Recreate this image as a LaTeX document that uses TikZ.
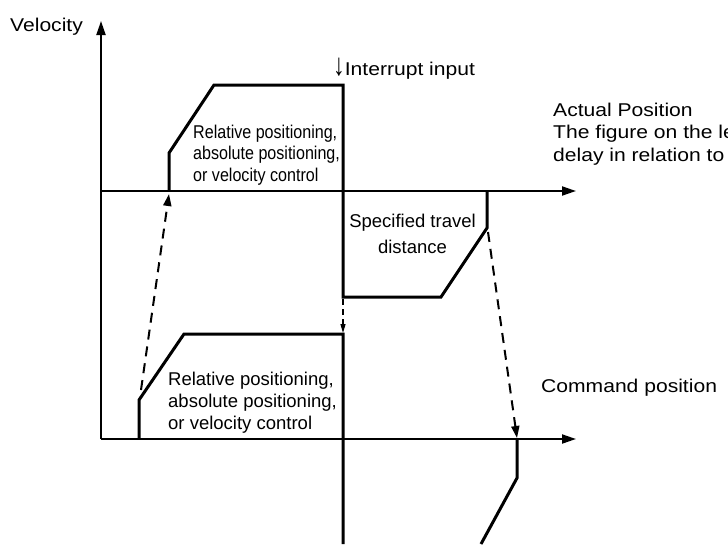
\documentclass[tikz,border=0pt]{standalone}
\usepackage{fontspec}
\setmainfont{Liberation Sans}
\newfontfamily\widefont[FakeStretch=1.14]{Liberation Sans}
\newfontfamily\narrowfont[FakeStretch=0.87]{Liberation Sans}
\usetikzlibrary{arrows.meta}
\begin{document}
\begin{tikzpicture}[x=1pt,y=-1pt,
  axis/.style={line width=2pt,-{Triangle[length=14pt,width=9pt]}},
  profile/.style={line width=3pt,line join=miter},
  dasharrow/.style={line width=2pt,dash pattern=on 10pt off 7pt,-{Triangle[length=12pt,width=8pt]}},
  smalldash/.style={line width=1.2pt,dash pattern=on 6pt off 4pt,-{Triangle[length=9pt,width=5pt]}},
  widelabel/.style={font=\widefont\fontsize{18.5}{22.5}\selectfont,inner sep=0pt,anchor=base west,align=left},
  normlabel/.style={font=\fontsize{18.5}{22}\selectfont,inner sep=0pt,align=left},
  narrowlabel/.style={font=\narrowfont\fontsize{18.5}{21.5}\selectfont,inner sep=0pt,anchor=base west,align=left}]
\useasboundingbox (0,0) rectangle (728,544);
\clip (0,0) rectangle (728,544);
% coordinates
\coordinate (o1) at (101,191);
\coordinate (o2) at (101,439);
\coordinate (vtip) at (101,21);
\coordinate (x1tip) at (576,191);
\coordinate (x2tip) at (576,439);
% upper profile
\coordinate (u0) at (169,191);
\coordinate (u1) at (169,153);
\coordinate (u2) at (214,85);
\coordinate (u3) at (343,85);
\coordinate (u4) at (343,297);
\coordinate (u5) at (441,297);
\coordinate (u6) at (487,228);
\coordinate (u7) at (487,191);
% lower profile
\coordinate (l0) at (139,439);
\coordinate (l1) at (139,400);
\coordinate (l2) at (184,334);
\coordinate (l3) at (343,334);
\coordinate (l4) at (343,544);
\coordinate (r0) at (517,439);
\coordinate (r1) at (517,478);
\coordinate (r2) at (481,544);
% dashed arrow ends
\coordinate (d1s) at (141,390);
\coordinate (d1e) at (169,194);
\coordinate (d2s) at (488,232);
\coordinate (d2e) at (517,438);
\coordinate (d3s) at (343,299);
\coordinate (d3e) at (343,333);
% axes
\draw[axis] (o2) -- (vtip);
\draw[axis] (o1) -- (x1tip);
\draw[axis] (o2) -- (x2tip);
% profiles
\draw[profile] (u0) -- (u1) -- (u2) -- (u3) -- (u4) -- (u5) -- (u6) -- (u7);
\draw[profile] (l0) -- (l1) -- (l2) -- (l3) -- (l4);
\draw[profile] (r0) -- (r1) -- (r2);
% dashed arrows
\draw[dasharrow] (d1s) -- (d1e);
\draw[dasharrow] (d2s) -- (d2e);
\draw[smalldash] (d3s) -- (d3e);
% labels
\node[widelabel] (vel) at (10,31) {Velocity};
\node[widelabel] (intr) at (333,75) {{\fontsize{31}{31}\selectfont\addfontfeature{FakeStretch=0.75}↓}Interrupt input};
\node[widelabel] (act) at (553,161) {Actual Position\\The figure on the le\\delay in relation to};
\node[widelabel] (cmd) at (541,392) {Command position};
\node[narrowlabel] (up) at (193,181) {Relative positioning,\\absolute positioning,\\or velocity control};
\node[normlabel,anchor=base west] (lo) at (168,429) {Relative positioning,\\absolute positioning,\\or velocity control};
\node[normlabel,anchor=base,align=center,font=\fontsize{18.5}{26}\selectfont] (spec) at (412.5,253) {Specified travel\\distance};
\end{tikzpicture}
\end{document}
